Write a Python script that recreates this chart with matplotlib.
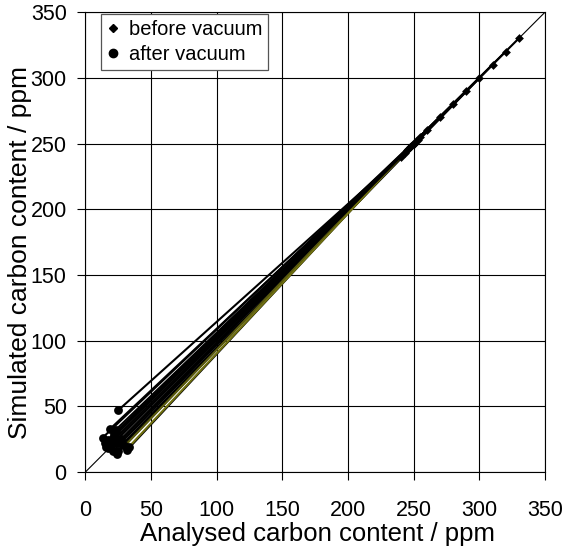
import matplotlib
matplotlib.use("Agg")
import matplotlib.pyplot as plt
from matplotlib.lines import Line2D

plt.rcParams['font.family'] = ['Liberation Sans', 'DejaVu Sans']

# before vacuum: analysed = simulated (on diagonal)
before_x = [240, 250, 260, 270, 280, 290, 300, 310, 320, 330,
            245, 248, 252, 255, 243, 247, 250, 253, 246, 249]
before_y = [240, 250, 260, 270, 280, 290, 300, 310, 320, 330,
            245, 248, 252, 255, 243, 247, 250, 253, 246, 249]
# after vacuum
after_x = [25, 19, 23, 13, 17, 21, 25, 28, 16, 17,
           21, 24, 25, 30, 32, 33, 20, 27, 22, 15]
after_y = [47, 33, 32, 26, 24, 26, 22, 21, 19, 18,
           16, 14, 16, 20, 17, 19, 21, 25, 29, 22]
line_colors = ['black'] * 13 + ['#5a5a10', 'black', '#707010', 'black', 'black', 'black', 'black']

ticks = [0, 50, 100, 150, 200, 250, 300, 350]

fig = plt.figure(figsize=(5.66, 5.52), dpi=100)
ax = fig.add_axes([0.151, 0.145, 0.812, 0.833])

ax.plot([0, 350], [0, 350], color='black', lw=0.8, zorder=2)
for bx, by, axx, ayy, c in zip(before_x, before_y, after_x, after_y, line_colors):
    ax.plot([bx, axx], [by, ayy], color=c, lw=1.5, zorder=3)

ax.scatter(before_x, before_y, marker='D', s=20, color='black', zorder=4, linewidths=0)
ax.scatter(after_x, after_y, marker='o', s=40, color='black', zorder=4, linewidths=0)

ax.set_xlim(0, 350)
ax.set_ylim(0, 350)
ax.set_xticks(ticks)
ax.set_yticks(ticks)
ax.grid(True, color='black', lw=0.8)
ax.set_axisbelow(True)
for s in ax.spines.values():
    s.set_linewidth(0.8)
ax.tick_params(axis='both', labelsize=15.5, length=5.5, width=0.8, direction='out')
ax.tick_params(axis='x', pad=15)
ax.tick_params(axis='y', pad=8)

ax.set_xlabel('Analysed carbon content / ppm', fontsize=18.5)
ax.set_ylabel('Simulated carbon content / ppm', fontsize=19)
ax.xaxis.set_label_coords(0.505, -0.108)
ax.yaxis.set_label_coords(-0.116, 0.478)

handles = [Line2D([], [], marker='D', color='black', ls='none', markersize=4.5),
           Line2D([], [], marker='o', color='black', ls='none', markersize=6)]
leg = ax.legend(handles, ['before vacuum', 'after vacuum'], loc='upper left',
                bbox_to_anchor=(0.033, 0.996), fontsize=14.5, frameon=True, fancybox=False,
                edgecolor='#555555', framealpha=1, handlelength=0.6, handletextpad=0.5,
                borderpad=0.3, labelspacing=0.3, borderaxespad=0)
leg.get_frame().set_linewidth(0.9)

fig.savefig('out.png', dpi=100)
